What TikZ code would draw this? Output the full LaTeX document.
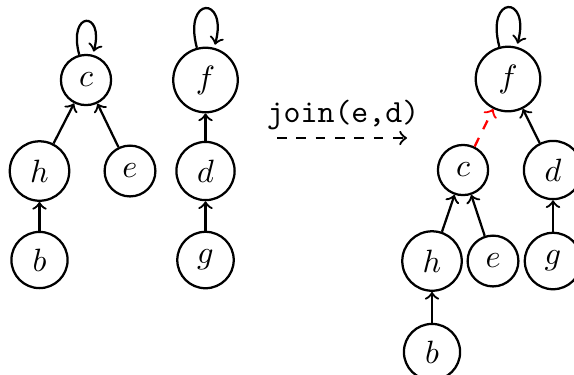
\documentclass[tikz,border=0pt]{standalone}
\begin{document}
\begin{tikzpicture}[x=0.31pt,y=-0.31pt,
  vertex/.style={circle,draw,line width=0.7pt},
  link/.style={->,line width=0.7pt},
  newlink/.style={->,line width=0.7pt,red,dashed},
  selfloop/.style={->,line width=0.7pt,loop above}]
\useasboundingbox (0,0) rectangle (574,374);
% left forest
\node[vertex] (c1) at (86,80) {$c$};
\node[vertex] (h1) at (39.5,171) {$h$};
\node[vertex] (e1) at (130,171) {$e$};
\node[vertex] (b1) at (39.5,260) {$b$};
\node[vertex] (f1) at (205.5,80) {$f$};
\node[vertex] (d1) at (205.5,171) {$d$};
\node[vertex] (g1) at (205.5,260) {$g$};
\draw[link] (h1) -- (c1);
\draw[link] (e1) -- (c1);
\draw[link] (b1) -- (h1);
\draw[link] (d1) -- (f1);
\draw[link] (g1) -- (d1);
\path (c1) edge[selfloop] (c1);
\path (f1) edge[selfloop] (f1);
% operation
\node[font=\ttfamily,anchor=base] (op) at (343,122) {join(e,d)};
\coordinate (a1) at (277,138);
\coordinate (a2) at (407,138);
\draw[->,line width=0.7pt,dashed] (a1) -- (a2);
% right forest
\node[vertex] (f2) at (508,79) {$f$};
\node[vertex] (c2) at (463,170) {$c$};
\node[vertex] (d2) at (553,170) {$d$};
\node[vertex] (h2) at (432,261) {$h$};
\node[vertex] (e2) at (493,261) {$e$};
\node[vertex] (g2) at (553,261) {$g$};
\node[vertex] (b2) at (432,352) {$b$};
\draw[newlink] (c2) -- (f2);
\draw[link] (d2) -- (f2);
\draw[link] (h2) -- (c2);
\draw[link] (e2) -- (c2);
\draw[link] (g2) -- (d2);
\draw[link] (b2) -- (h2);
\path (f2) edge[selfloop] (f2);
\end{tikzpicture}
\end{document}
